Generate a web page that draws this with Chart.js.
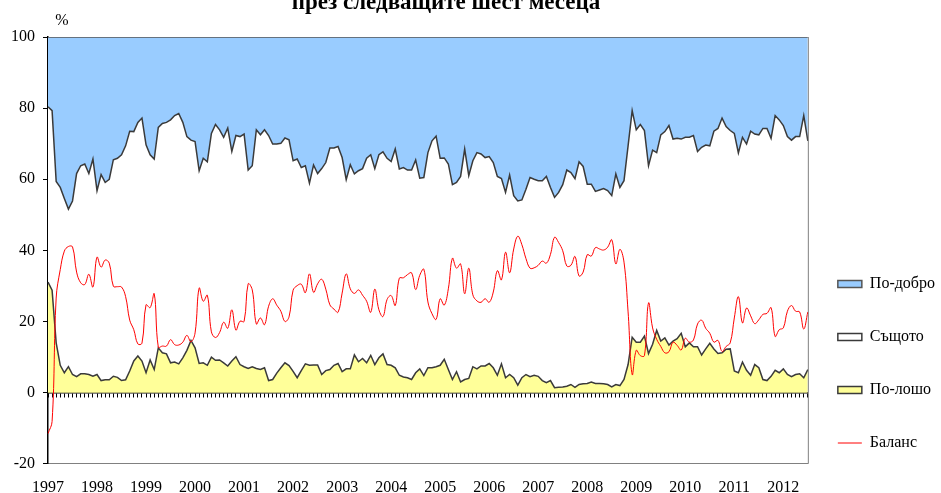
<!DOCTYPE html>
<html>
<head>
<meta charset="utf-8">
<script src="https://cdn.jsdelivr.net/npm/chart.js@4.4.1/dist/chart.umd.min.js"></script>
<style>
  html, body { margin: 0; padding: 0; background: #fff; }
  #wrap { width: 941px; height: 493px; position: relative; }
</style>
</head>
<body>
<div id="wrap"><canvas id="chart"></canvas></div>
<script>
// monthly survey, Jan 1997 - Jul 2012
var years = ['1997', '1998', '1999', '2000', '2001', '2002', '2003', '2004',
             '2005', '2006', '2007', '2008', '2009', '2010', '2011', '2012'];
var monthCount = 187;

var better = [
  19.6, 20.7, 40.6, 42.3, 45.4, 48.4, 46.1, 38.4, 36.2, 35.7, 38.4, 34.3,
  43.2, 38.7, 40.9, 40.0, 34.5, 34.1, 33.1, 30.6, 26.5, 26.6, 24.0, 22.8,
  30.3, 33.1, 34.3, 25.4, 24.3, 24.0, 23.3, 22.1, 21.5, 24.0, 28.0, 29.0,
  29.4, 37.6, 34.1, 35.1, 27.1, 24.6, 26.1, 28.2, 25.6, 32.2, 27.7, 28.0,
  27.3, 37.4, 36.2, 26.1, 27.5, 26.1, 27.7, 30.1, 30.1, 29.9, 28.4, 28.9,
  34.8, 34.3, 36.7, 36.2, 41.1, 36.0, 38.4, 37.0, 35.3, 31.2, 31.2, 30.8,
  33.9, 40.1, 35.9, 38.5, 37.6, 37.0, 34.1, 33.1, 37.0, 33.1, 32.3, 34.1,
  35.0, 31.5, 37.1, 36.7, 37.4, 37.4, 34.6, 39.7, 39.5, 32.5, 29.2, 27.9,
  34.1, 34.0, 35.7, 41.5, 40.9, 39.2, 31.5, 39.0, 34.8, 32.5, 32.9, 33.9,
  33.6, 35.3, 39.2, 39.8, 43.7, 38.8, 44.6, 46.1, 45.8, 42.8, 39.5, 40.0,
  40.4, 40.4, 39.2, 42.3, 45.1, 43.7, 41.5, 37.4, 38.1, 39.8, 35.1, 36.4,
  41.4, 41.4, 43.4, 43.0, 42.6, 43.2, 44.6, 38.5, 42.3, 40.4, 30.6, 20.7,
  26.1, 24.6, 26.3, 36.2, 31.8, 32.5, 27.5, 26.6, 24.9, 28.7, 28.5, 28.7,
  28.2, 28.2, 27.7, 32.2, 31.0, 30.4, 30.6, 26.5, 25.7, 22.8, 25.2, 26.3,
  27.1, 32.6, 28.2, 30.1, 26.5, 27.3, 27.5, 25.7, 25.7, 28.5, 22.1, 23.3,
  24.9, 28.0, 29.0, 28.0, 28.0, 22.1, 29.2
];

var same = [
  49.3, 50.5, 45.4, 50.0, 49.0, 44.3, 48.8, 57.1, 58.5, 59.0, 56.5, 61.1,
  51.7, 57.9, 55.5, 56.4, 60.9, 61.6, 63.5, 65.8, 67.4, 64.5, 65.7, 68.3,
  64.1, 57.7, 59.2, 62.0, 64.5, 65.1, 68.3, 69.3, 70.4, 66.2, 60.1, 56.3,
  58.0, 54.2, 57.5, 57.2, 62.9, 66.3, 64.7, 63.4, 66.9, 58.9, 62.2, 64.1,
  65.4, 55.8, 56.5, 67.1, 66.0, 66.9, 68.9, 66.2, 64.4, 63.1, 63.2, 63.5,
  59.2, 61.5, 57.1, 55.7, 51.2, 56.2, 53.8, 57.9, 58.5, 62.3, 61.1, 61.0,
  60.2, 53.2, 57.4, 50.9, 53.7, 53.4, 57.5, 56.4, 55.1, 57.1, 56.8, 58.0,
  57.3, 61.5, 58.0, 58.9, 58.4, 58.9, 59.8, 53.6, 55.7, 60.5, 63.8, 64.8,
  58.2, 56.6, 57.8, 54.8, 53.2, 57.8, 64.8, 57.0, 57.9, 60.8, 59.6, 58.6,
  58.2, 57.7, 55.9, 52.1, 52.1, 56.1, 51.2, 51.8, 50.0, 52.1, 56.0, 55.1,
  55.0, 56.2, 58.0, 54.3, 53.5, 54.8, 56.9, 60.8, 59.6, 58.7, 62.6, 61.1,
  56.0, 55.6, 54.0, 54.4, 54.9, 54.5, 53.8, 59.2, 55.7, 55.9, 61.5, 63.7,
  59.7, 61.2, 57.8, 52.8, 54.6, 50.0, 58.0, 58.0, 61.7, 56.8, 56.3, 54.6,
  58.9, 57.8, 59.4, 54.9, 58.4, 57.3, 55.5, 61.2, 63.3, 66.0, 62.6, 61.4,
  66.8, 61.8, 63.2, 63.6, 68.6, 64.8, 65.5, 70.6, 70.9, 66.9, 71.6, 71.1,
  68.4, 66.9, 66.5, 66.9, 66.7, 73.7, 64.3
];

var worse = [
  31.1, 28.8, 14.0, 7.7, 5.6, 7.3, 5.1, 4.5, 5.3, 5.3, 5.1, 4.6,
  5.1, 3.4, 3.6, 3.6, 4.6, 4.3, 3.4, 3.6, 6.1, 8.9, 10.3, 8.9,
  5.6, 9.2, 6.5, 12.6, 11.2, 10.9, 8.4, 8.6, 8.1, 9.8, 11.9, 14.7,
  12.6, 8.2, 8.4, 7.7, 10.0, 9.1, 9.2, 8.4, 7.5, 8.9, 10.1, 7.9,
  7.3, 6.8, 7.3, 6.8, 6.5, 7.0, 3.4, 3.7, 5.5, 7.0, 8.4, 7.6,
  6.0, 4.2, 6.2, 8.1, 7.7, 7.8, 7.8, 5.1, 6.2, 6.5, 7.7, 8.2,
  5.9, 6.7, 6.7, 10.6, 8.7, 9.6, 8.4, 10.5, 7.9, 9.8, 10.9, 7.9,
  7.7, 7.0, 4.9, 4.4, 4.2, 3.7, 5.6, 6.7, 4.8, 7.0, 7.0, 7.3,
  7.7, 9.4, 6.5, 3.7, 5.9, 3.0, 3.7, 4.0, 7.3, 6.7, 7.5, 7.5,
  8.2, 7.0, 4.9, 8.1, 4.2, 5.1, 4.2, 2.1, 4.2, 5.1, 4.5, 4.9,
  4.6, 3.4, 2.8, 3.4, 1.4, 1.5, 1.6, 1.8, 2.3, 1.5, 2.3, 2.5,
  2.6, 3.0, 2.6, 2.6, 2.5, 2.3, 1.6, 2.3, 2.0, 3.7, 7.9, 15.6,
  14.2, 14.2, 15.9, 11.0, 13.6, 17.5, 14.5, 15.4, 13.4, 14.5, 15.2, 16.7,
  12.9, 14.0, 12.9, 12.9, 10.6, 12.3, 13.9, 12.3, 11.0, 11.2, 12.2, 12.3,
  6.1, 5.6, 8.6, 6.3, 4.9, 7.9, 7.0, 3.7, 3.4, 4.6, 6.3, 5.6,
  6.7, 5.1, 4.5, 5.1, 5.3, 4.2, 6.5
];

var balance = [
  -11.5, -8.1, 26.6, 34.6, 39.8, 41.1, 41.0, 33.9, 30.9, 30.4, 33.3, 29.7,
  38.1, 35.3, 37.3, 36.4, 29.9, 29.8, 29.7, 27.0, 20.4, 17.7, 13.7, 13.9,
  24.7, 23.9, 27.8, 12.8, 13.1, 13.1, 14.9, 13.5, 13.4, 14.2, 16.1, 14.3,
  16.8, 29.4, 25.7, 27.4, 17.1, 15.5, 16.9, 19.8, 18.1, 23.3, 17.6, 20.1,
  20.0, 30.6, 28.9, 19.3, 21.0, 19.1, 24.3, 26.4, 24.6, 22.9, 20.0, 21.3,
  28.8, 30.1, 30.5, 28.1, 33.4, 28.2, 30.6, 31.9, 29.1, 24.7, 23.5, 22.6,
  28.0, 33.4, 29.2, 27.9, 28.9, 27.4, 25.7, 22.6, 29.1, 23.3, 21.4, 26.2,
  27.3, 24.5, 32.2, 32.3, 33.2, 33.7, 29.0, 33.0, 34.7, 25.5, 22.2, 20.6,
  26.4, 24.6, 29.2, 37.8, 35.0, 36.2, 27.8, 35.0, 27.5, 25.8, 25.4, 26.4,
  25.4, 28.3, 34.3, 31.7, 39.5, 33.7, 40.4, 44.0, 41.6, 37.7, 35.0, 35.1,
  35.8, 37.0, 36.4, 38.9, 43.7, 42.2, 39.9, 35.6, 35.8, 38.3, 32.8, 33.9,
  38.8, 38.4, 40.8, 40.4, 40.1, 40.9, 43.0, 36.2, 40.3, 36.7, 22.7, 5.1,
  11.9, 10.4, 10.4, 25.2, 18.2, 15.0, 13.0, 11.2, 11.5, 14.2, 13.3, 12.0,
  15.3, 14.2, 14.8, 19.3, 20.4, 18.1, 16.7, 14.2, 14.7, 11.6, 13.0, 14.0,
  21.0, 27.0, 19.6, 23.8, 21.6, 19.4, 20.5, 22.0, 22.3, 23.9, 15.8, 17.7,
  18.2, 22.9, 24.5, 22.9, 22.7, 17.9, 22.7
];

var yTicks = [-20, 0, 20, 40, 60, 80, 100];

var titleText = 'през следващите шест месеца';
var serif = '"Liberation Serif", "Times New Roman", serif';

// month labels "1997-01" ... only January gets a year on the axis
var labels = [];
years.forEach(function(y) {
    for (var m = 1; m <= 12; m++) {
        if (labels.length < monthCount) labels.push(y + '-' + (m < 10 ? '0' + m : m));
    }
});

// legend order: По-добро, Същото, По-лошо, Баланс
var legendRank = { 2: 0, 1: 1, 0: 2, 3: 3 };

var extraText = {
    id: 'extraText',
    afterLayout: function(chart) {
        // pull the legend a bit closer to the plot, like the original
        var lg = chart.legend;
        lg.left -= 7; lg.right -= 7;
        lg.top -= 23; lg.bottom -= 23;
    },
    afterDraw: function(chart) {
        var ctx = chart.ctx, area = chart.chartArea;
        ctx.save();
        // right edge of plot frame
        ctx.strokeStyle = '#808080';
        ctx.lineWidth = 1;
        ctx.beginPath();
        ctx.moveTo(area.right + 0.5, area.top);
        ctx.lineTo(area.right + 0.5, area.bottom);
        ctx.stroke();

        ctx.fillStyle = '#000';
        ctx.textAlign = 'center';
        ctx.textBaseline = 'alphabetic';
        ctx.font = 'bold 23px ' + serif;
        ctx.fillText(titleText, 446, 9);
        ctx.font = '16px ' + serif;
        ctx.fillText('%', area.left + 14, area.top - 12);
        ctx.restore();
    }
};

var areaBorder = '#3a3a3a';

new Chart(document.getElementById('chart'), {
    type: 'line',
    data: {
        labels: labels,
        datasets: [
            {
                label: 'По-лошо',
                data: worse,
                backgroundColor: '#FFFF99',
                borderColor: areaBorder,
                borderWidth: 1.5,
                fill: 'origin',
                pointRadius: 0,
                pointStyle: 'rect',
                tension: 0
            },
            {
                label: 'Същото',
                data: same,
                backgroundColor: '#FFFFFF',
                borderColor: areaBorder,
                borderWidth: 1.5,
                fill: '-1',
                pointRadius: 0,
                pointStyle: 'rect',
                tension: 0
            },
            {
                label: 'По-добро',
                data: better,
                backgroundColor: '#99CCFF',
                borderColor: '#555555',
                borderWidth: 1.5,
                fill: '-1',
                pointRadius: 0,
                pointStyle: 'rect',
                tension: 0
            },
            {
                label: 'Баланс',
                data: balance,
                stack: 'balance',
                borderColor: '#FF0000',
                backgroundColor: '#FF0000',
                borderWidth: 1,
                fill: false,
                pointRadius: 0,
                pointStyle: 'line',
                tension: 0.4,
                order: -1
            }
        ]
    },
    options: {
        responsive: true,
        maintainAspectRatio: false,
        animation: false,
        layout: { padding: { top: 37, left: 3, right: -11, bottom: -18 } },
        plugins: {
            tooltip: { enabled: false },
            title: { display: false },
            legend: {
                position: 'right',
                align: 'end',
                labels: {
                    usePointStyle: true,
                    pointStyleWidth: 24,
                    boxHeight: 7,
                    padding: 37,
                    color: '#000',
                    font: { family: serif, size: 16 },
                    sort: function(a, b) {
                        return legendRank[a.datasetIndex] - legendRank[b.datasetIndex];
                    }
                }
            }
        },
        scales: {
            x: {
                type: 'category',
                position: 'bottom',
                grid: { display: false, drawTicks: false },
                border: { display: true, color: '#808080', width: 1 },
                ticks: {
                    autoSkip: false,
                    maxRotation: 0,
                    minRotation: 0,
                    padding: 14,
                    color: '#000',
                    font: { family: serif, size: 16 },
                    callback: function(v, i) {
                        var l = labels[i];
                        return l.slice(5) === '01' ? l.slice(0, 4) : '';
                    }
                }
            },
            x0: {
                type: 'category',
                position: { y: 0 },
                z: 1,
                grid: { display: true, drawOnChartArea: false, drawTicks: true, tickLength: 4, color: '#000' },
                border: { display: true, color: '#000', width: 1.5 },
                ticks: { display: false, autoSkip: false },
                afterFit: function(axis) { axis.height = 0; }
            },
            y: {
                stacked: true,
                min: -20,
                max: 100,
                z: 1,
                grid: { display: true, drawOnChartArea: false, drawTicks: true, tickLength: 5, color: '#000' },
                border: { display: true, color: '#000', width: 1.5 },
                afterBuildTicks: function(axis) {
                    axis.ticks = yTicks.map(function(v) { return { value: v }; });
                },
                ticks: {
                    padding: 8,
                    color: '#000',
                    font: { family: serif, size: 16 }
                }
            }
        }
    },
    plugins: [extraText]
});
</script>
</body>
</html>
